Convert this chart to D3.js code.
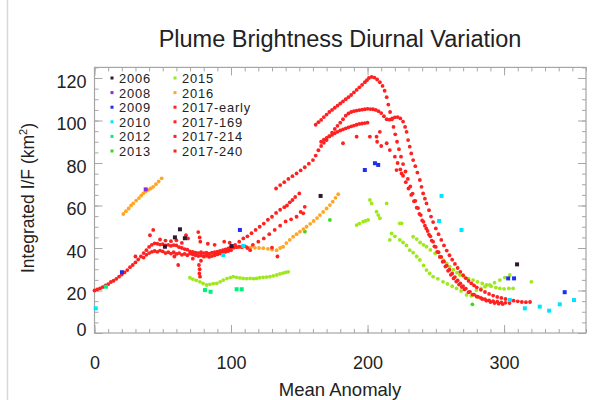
<!DOCTYPE html>
<html><head><meta charset="utf-8">
<script src="https://cdn.jsdelivr.net/npm/d3@7"></script>
<style>body{margin:0;background:#fff}svg{display:block}text{font-family:"Liberation Sans",Arial,sans-serif}</style>
</head><body>
<svg id="c" width="596" height="400"></svg>
<script>
// ---- data (Mean Anomaly, Integrated I/F) ----
const xTicks = [0, 100, 200, 300];
const yTicks = [0, 20, 40, 60, 80, 100, 120];
const legendNames = ["2006","2008","2009","2010","2012","2013","2015","2016","2017-early","2017-169","2017-214","2017-240"];
const legendColors = ["#301830","#8a2be2","#1f2ff0","#00e5ff","#00f07a","#3ad81e","#9ee81c","#ffa626","#ff2020","#ff2020","#ff2020","#ff2020"];

const d2006 = [[51.6,40.6],[58.9,45],[62.6,48.8],[66.2,44.6],[100.4,40.9],[165.6,64.5],[309.5,32.3]];
const d2008 = [[37.5,67.6]];
const d2009 = [[20.1,28.6],[106.5,48.5],[198,76.7],[205.4,79.9],[207.8,79.1],[303,25.7],[307.3,25.7],[344.4,19.2]];
const d2010 = [[0.9,11.6],[94.3,36.7],[109,41],[254.2,64.5],[252.4,52.7],[268.8,48.5],[304.2,15.5],[315.2,11.6],[326.1,12.4],[333,10.5],[340.8,13.5],[351.2,15.5]];
const d2012 = [[8.4,21.8],[80.9,20.2],[85,19.4],[104.1,20.6],[107.8,20.6]];
const d2013 = [[154.1,47.7],[172.4,53.2],[276.8,13.5]];
const d2015 = [[69.9,26],[72,25.4],[74.5,24.8],[77.2,24.1],[79.5,23.3],[82.1,22.6],[84.5,22.9],[87,23.2],[89.5,23.4],[92,24.1],[94.3,24.9],[97,25.6],[99.5,26.1],[101.6,26.5],[104,26.2],[106.5,25.9],[108.9,25.7],[111.5,25.6],[114,25.7],[116.5,25.6],[118.7,25.7],[121,26],[123.5,26.2],[126,26.3],[128.5,26.5],[131,26.9],[133.5,27.3],[135.8,27.8],[138,28.2],[140,28.5],[141.9,28.8],
 [192,50.8],[194,51.5],[196.8,52.4],[198.5,52.8],[200.4,53.2],[201.7,62.6],[203,61],[206.6,57.1],[207.8,55.5],[209,54],[214,61],[216.3,43.8],[224.9,51.6],[223.6,51.6],
 [217.6,46.9],[220,45.5],[223.6,43.8],[226,42.6],[228.5,41.2],[230.9,39],[233.4,37.8],[236,36],[238.3,34.4],[241,31.8],[243.2,29.6],[245.5,28],[248,26.5],[251.5,25.5],[255.3,24.1],[258.5,23.1],[262,22],[265.2,21],[268.5,19.8],[272.5,17.9],[276,17.5],[279.8,17.1],
 [233.4,45.3],[236,44.2],[238.5,42.6],[241,41.5],[243.2,40.6],[246,39.1],[249.5,37.5],[252.9,35.9],[255.5,34.3],[258,32.7],[260.2,31.2],[263,29.8],[265.5,28.4],[267.6,27.3],[270.5,26.5],[274,25.6],[277.3,24.9],[280.5,24.1],[284,23.3],[287.1,22.6],[290.5,22],[294,21.4],[296.9,21],[300,20.8],[303.5,21],[306.6,21],
 [279.8,20.2],[283,21],[286,21.8],[289.5,22.6],[293,23.7],[296.9,24.9],[300.5,26.1],[304.2,27.3],[320,24.1]];
const d2016 = [[21.1,56],[23,57.3],[25,58.6],[26.8,60],[28.4,61],[30.5,62.3],[32.5,63.5],[34.2,64.7],[35.7,65.7],[37.5,66.6],[39.5,67.4],[41.2,68],[43,68.8],[45,70],[47,71.3],[49.2,72.8],
 [80.9,35.9],[83.5,36.4],[86,36.9],[89.5,37.5],[92.5,38.2],[95.5,39.1],[99.2,39.9],[102,40.2],[105,40.4],[108,40.5],[111.4,40.6],[114.5,40.3],[117.5,40.1],[120.5,40],[123.6,39.9],[127,39.6],[130,39.3],[133.4,39],[136,40],[138.2,40.6],
 [140.5,42.3],[143,43.8],[145.5,45.3],[148,46.5],[150.5,47.7],[153,48.9],[155.3,50],[158,51.4],[160.5,52.7],[163,54.1],[165.1,55.5],[167.5,57],[170,58.6],[172.4,60.2],[174.5,61.8],[176.5,63.6],[178.5,65.3]];

const r2017early = [[0,20],[2,20.5],[4,21],[6,21.6],[8,22.4],[10,23],[12,24],[14,24.6],[16,25.5],[18,26.5],[20,27.5],[22,28.5],[24,29.6],[26,31],[28,32],[30,33.2],[32,34.6],[34,36],[36,37.6],[38,39],[40,40.5],[42,41.5],[44,42.2],[46,42],[48,41.6],[50,41.8],[52,41.2],[54,41.5],[56,41],[58,41.4],[60,41.2],[62,40.4],[64,40],[66,39.5],[68,39.2],
 [36,35.5],[38,36.8],[40,37.6],[42,38.2],[44,38.6],[46,38.2],[48,38.8],[50,38.4],[52,37.6],[54,38],[56,37.4],[58,38],[60,37.2],[62,37.6],[64,36.8],[66,37.2],[68,36.6],[70,37.4],[72,37],[74,36.6],[76,36.2],[78,36.5],[80,36],[82,36.4],[84,35.8],[86,36.2],[88,36.6],[90,37],[92,37.4],[94,37.8],[96,38.2],[98,38.6],[100,39],
 [70,38.4],[72,38.2],[74,37.8],[76,37.6],[78,38],[80,37.6],[82,37.8],[84,37.4],[86,37.8],[88,38],[90,38.3],[92,38.6],[94,39],[96,39.4],[98,39.8],[100,40.2],[102,40.2],[104,40.4],[106,40.6],[108,40.4],[110,40.8],
 [40.6,46],[43,48.5],[48,44],[61.3,32],[67,46],[68.5,44.5],[76,47.5],[77,45],[77.5,43],[76.5,32],[77,30],[76.8,28],[77.3,26.5],[78,34],[52,43.5],[56,43.2],[60,43.6],[64,42.4],[72,35],[83,42],[88,41.5],[95,43],[134,36],[114,39],[130,40.2],[99,42.5],[58.5,36],[30,36]];
const r2017_169 = [[133,68],[136,69.6],[139,71],[142,72.5],[145,73.8],[148,75.1],[151,76.5],[154,78],[157,79.7],[160,81.4],[162,83.5],[164,86],[166,88],[168,89.5],[170,90.8],[172,92.5],[174,94.3],[176,96],[178,97.5],[180,99],[182,100.6],[184,102.3],[186,103.3],[188,104],[190,104.4],[192,104.7],[194,104.9],[196,105.1],[198,105.3],[200,105.5],[202,105.4],[204,105.3],[206,105],[208,104.4],[210,103.5],[212,102],[214,100.6],[216,100.4],[218,101],[220,101.5],[222,101.6],[224,101],[226,99.5],[227.5,97],[228.6,94.7],[229.7,90.8],[230.9,87.7],[232,84.5],[233.4,81.4],[235,78.5],[236.5,75.5],[238.3,72],[239.5,68.8],[240.7,65.7],[242,63.2],[243.2,61],[245,57.8],[246.5,54.8],[248,52.2],[250,49.2],[252,46.5],[254,43.8],[256,41.2],[258,38.8],[260,36.6],[262,34.5],[264,32.5],[266,30.6],[268,28.8],[270,27.2],[272,25.8],[274,24.5],[276,23.4],[278,22.4],[280,21.5],[283,20.3],[286,19.3],[289,18.4],[292,17.6],[295,17],[298,16.5],[301,16],[304,15.6],[307,15.2],[310,14.9],[313,14.6],[316,14.5],[319,14.6]];
const r2017_214 = [[162,98],[164,99.2],[166,100.3],[168,101.6],[170,102.8],[172,104],[174,105],[176,106],[178,107],[180,108],[182,109],[184,110],[186,111],[188,112],[190,113.2],[192,114.4],[194,115.6],[196,116.8],[198,118],[199.5,119],[201,120],[203,120.5],[205,120.2],[207,119.3],[209,118],[211,116.3],[212.5,114],[214,111],[215.2,107.5],[216.5,104],[217.8,100.5],[219,97],[220.3,93.5],[221.6,90],[223,86.5],[224.5,83],[226,79.5],[227.8,76],[229.5,72.5],[231.3,69],[233,65.6],[235,62.2],[237,58.8],[239,55.5],[241,52.3],[243,49.2],[245,46.3],[247,43.5],[249,40.8],[251,38.2],[253,35.8],[255,33.5],[257,31.3],[259,29.3],[261,27.4],[263,25.7],[265,24.2],[267,22.8],[269,21.6],[271,20.5],[274,19.2],[277,18.1],[280,17.2],[283,16.5],[286,15.9],[289,15.4],[292,15],[295,14.7],[298,14.4],[301,14.2],[304,14.1]];
const r2017_240 = [[100,40.5],[103,41.5],[106,43],[109,44.5],[112,45.5],[115,47],[118,48.5],[121,50],[124,51.5],[127,53.3],[130,54.7],[133,56.5],[136,58],[139,59.2],[141,60],[143,61.5],[145,62.6],[147,64],[150,65.7],
 [112,40],[116,41.5],[120,43],[124,44.5],[128,46.5],[132,48.5],[136,50.5],[140,52.5],[144,53.5],[148,54.7],[151,57],[154,59.4],[152.9,56.3],
 [166,90],[168,91],[170,91.8],[172,92.6],[174,93.2],[176,94],[178,94.7],[180,95.3],[182,95.8],[184,96.3],[186,96.8],[188,97.2],[190,97.6],[192,98],[194,98.4],[196,98.6],[198,98.8],[200,99],
 [182,89.3],[192,92.4],[201.7,92.4],[206.6,92.4],[209,94.7],[214,89.3],[216.3,86.1],[220,83],[221.2,76.7],[224.9,75.1],[210,88],[207,90],
 [222,80],[224,77],[226,74],[228,71],[230,68],[232,65],[234,62],[236,59],[238,56],[240,53],[242,50.5],[244,48],[246,45.5],[248,43],[250,40.5],[252,38],[254,35.8],[256,33.7],[258,31.7],[260,29.8],[262,28],[264,26.3],[266,24.8],[268,23.4],[270,22.1],[272,20.9],[275,19.4],[278,18.1],[281,17],[284,16],[287,15.2],[290,14.6],[293,14.1],[296,13.8],[299,13.6]];

// ---- layout ----
const svg = d3.select("#c");
const x = d3.scaleLinear().domain([0, 360]).range([94.5, 586]);
const y = d3.scaleLinear().domain([0, 125]).range([333, 67.4]);
const axisCol = "#a6a6a6", txtCol = "#222";

svg.append("line").attr("x1",7.5).attr("x2",7.5).attr("y1",0).attr("y2",400).attr("stroke","#d8d8d8").attr("stroke-width",1.5);

svg.append("text").attr("x",340).attr("y",47).attr("text-anchor","middle").attr("font-size",23.5).attr("fill",txtCol).text("Plume Brightness Diurnal Variation");

// frame
svg.append("rect").attr("x",x(0)).attr("y",y(125)).attr("width",x(360)-x(0)).attr("height",y(0)-y(125)).attr("fill","none").attr("stroke",axisCol).attr("stroke-width",1.2);

function styleAxis(g){ g.select(".domain").remove(); g.selectAll("line").attr("stroke",axisCol); g.selectAll("text").attr("fill",txtCol).attr("font-size",18).attr("font-family","Liberation Sans, Arial, sans-serif"); }
const xMinor = d3.range(0, 361, 10), yMinor = d3.range(0, 126, 5);
svg.append("g").attr("transform",`translate(0,${y(0)})`).call(d3.axisBottom(x).tickValues(xMinor).tickSize(-4).tickFormat("")).call(styleAxis);
svg.append("g").attr("transform",`translate(0,${y(0)})`).call(d3.axisBottom(x).tickValues(xTicks).tickSize(-8).tickPadding(23)).call(styleAxis);
svg.append("g").attr("transform",`translate(0,${y(125)})`).call(d3.axisTop(x).tickValues(xMinor).tickSize(-4).tickFormat("")).call(styleAxis);
svg.append("g").attr("transform",`translate(0,${y(125)})`).call(d3.axisTop(x).tickValues(xTicks).tickSize(-8).tickFormat("")).call(styleAxis);
svg.append("g").attr("transform",`translate(${x(0)},0)`).call(d3.axisLeft(y).tickValues(yMinor).tickSize(-4).tickFormat("")).call(styleAxis);
const yl = svg.append("g").attr("transform",`translate(${x(0)},0)`).call(d3.axisLeft(y).tickValues(yTicks).tickSize(-8).tickPadding(8)).call(styleAxis);
yl.selectAll("text").attr("dy","0.5em");
yl.selectAll(".tick").filter(d=>d===0).select("text").attr("dy","0.15em");
svg.append("g").attr("transform",`translate(${x(360)},0)`).call(d3.axisRight(y).tickValues(yMinor).tickSize(-4).tickFormat("")).call(styleAxis);
svg.append("g").attr("transform",`translate(${x(360)},0)`).call(d3.axisRight(y).tickValues(yTicks).tickSize(-8).tickFormat("")).call(styleAxis);

svg.append("text").attr("x",340).attr("y",396).attr("text-anchor","middle").attr("font-size",18.5).attr("fill",txtCol).text("Mean Anomaly");
const yt = svg.append("text").attr("transform","translate(34,198) rotate(-90)").attr("text-anchor","middle").attr("font-size",17.5).attr("fill",txtCol);
yt.append("tspan").text("Integrated I/F (km");
yt.append("tspan").attr("font-size",11).attr("dy",-7).text("2");
yt.append("tspan").attr("dy",7).text(")");

// ---- marks ----
const plot = svg.append("g");
function dots(data, color, r){
  plot.append("g").selectAll("circle").data(data).join("circle")
    .attr("cx",d=>x(d[0])).attr("cy",d=>y(d[1])).attr("r",r).attr("fill",color);
}
function squares(data, color, s){
  plot.append("g").selectAll("rect").data(data).join("rect")
    .attr("x",d=>x(d[0])-s/2).attr("y",d=>y(d[1])-s/2).attr("width",s).attr("height",s).attr("fill",color);
}
dots(d2013, legendColors[5], 1.9);
dots(d2015, legendColors[6], 1.9);
dots(d2016, legendColors[7], 1.9);
dots(r2017early, legendColors[8], 1.9);
dots(r2017_169, legendColors[9], 1.9);
dots(r2017_214, legendColors[10], 1.9);
dots(r2017_240, legendColors[11], 1.9);
squares(d2012, legendColors[4], 4);
squares(d2010, legendColors[3], 4);
squares(d2009, legendColors[2], 4);
squares(d2008, legendColors[1], 4);
squares(d2006, legendColors[0], 4);

// ---- legend ----
const lg = svg.append("g");
legendNames.forEach((n,i)=>{
  const col = Math.floor(i/6), row = i%6;
  const mx = col ? 175 : 112, ty = 78 + row*14.6;
  lg.append("rect").attr("x",mx-1.5).attr("y",ty-1.5).attr("width",3).attr("height",3).attr("fill",legendColors[i]);
  lg.append("text").attr("x",mx+7).attr("y",ty+5).attr("font-size",12.9).attr("letter-spacing",0.8).attr("fill",txtCol).text(n);
});
</script>
</body></html>
